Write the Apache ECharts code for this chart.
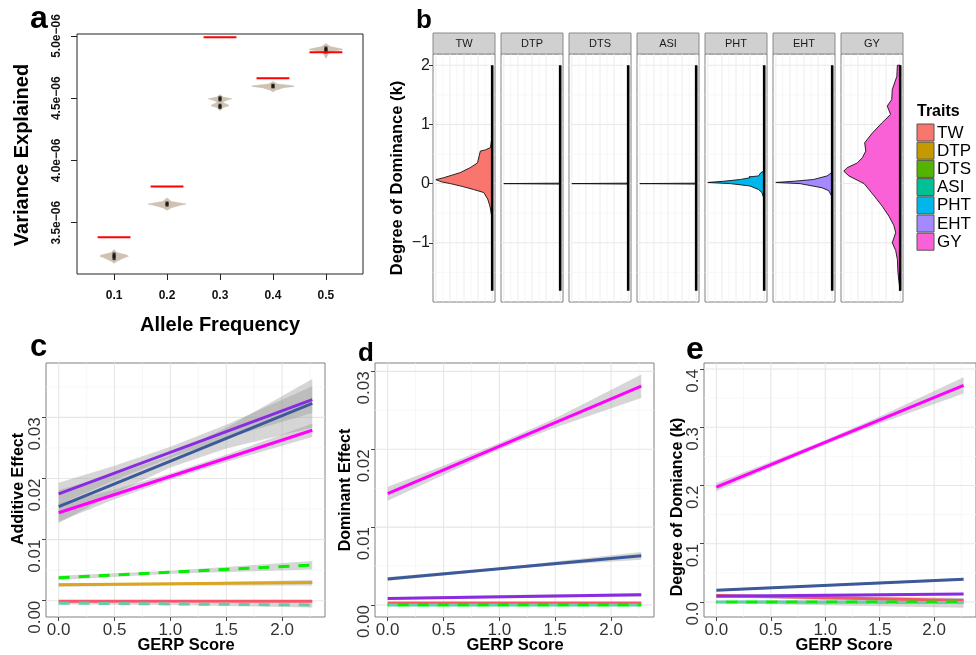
<!DOCTYPE html>
<html>
<head>
<meta charset="utf-8">
<script src="https://cdn.jsdelivr.net/npm/echarts@6/dist/echarts.min.js"></script>
<style>
  html, body { margin: 0; padding: 0; background: #fff; }
  #chart { width: 976px; height: 655px; }
</style>
</head>
<body>
<div id="chart"></div>
<script>
// ---------- Panel a: variance explained per allele-frequency class (units of 1e-6) ----------
const alleleFreqLabels = ['0.1', '0.2', '0.3', '0.4', '0.5'];
const expectedVarE6 = [3.383, 3.79, 4.99, 4.66, 4.87];
// violin outlines: [variance, half width in class units]
const violin01 = [[3.285, 0], [3.26, 0.05], [3.24, 0.24], [3.23, 0.27], [3.22, 0.2], [3.19, 0.05], [3.175, 0]];
const violin02 = [[3.70, 0], [3.67, 0.08], [3.655, 0.3], [3.65, 0.36], [3.64, 0.25], [3.62, 0.08], [3.60, 0]];
const violin03 = [[4.53, 0], [4.51, 0.06], [4.495, 0.22], [4.48, 0.1], [4.465, 0.05], [4.45, 0.14], [4.44, 0.17], [4.425, 0.06], [4.40, 0]];
const violin04 = [[4.635, 0], [4.615, 0.08], [4.60, 0.38], [4.595, 0.40], [4.585, 0.2], [4.565, 0.05], [4.55, 0]];
const violin05 = [[4.94, 0], [4.915, 0.08], [4.895, 0.3], [4.89, 0.32], [4.88, 0.15], [4.86, 0.05], [4.82, 0]];
const replicateVarE6 = [[3.245, 3.23, 3.215], [3.655, 3.645], [4.50, 4.49, 4.44, 4.43], [4.60, 4.595], [4.90, 4.89, 4.875]];
const varianceTicksE6 = [3.5, 4.0, 4.5, 5.0];
const varianceTickLabels = ['3.5e\u221206', '4.0e\u221206', '4.5e\u221206', '5.0e\u221206'];

// ---------- Panel b: distribution of degree of dominance (k) per trait ----------
const traitNames = ['TW', 'DTP', 'DTS', 'ASI', 'PHT', 'EHT', 'GY'];
const traitColors = ['#F8766D', '#C49A00', '#53B400', '#00C094', '#00B6EB', '#A58AFF', '#FB61D7'];
// [k, scaled density]
const densTW = [[0.89, 0], [0.75, 0.01], [0.61, 0.03], [0.57, 0.12], [0.55, 0.21], [0.47, 0.23], [0.35, 0.26], [0.27, 0.39],
  [0.185, 0.57], [0.10, 0.86], [0.067, 1.0], [0.03, 0.9], [0, 0.74], [-0.05, 0.52], [-0.1, 0.33], [-0.15, 0.15],
  [-0.26, 0.08], [-0.38, 0.04], [-0.57, 0.005], [-0.6, 0]];
const densDTP = [[0.008, 0], [0, 1.0], [-0.008, 0]];
const densDTS = [[0.008, 0], [0, 1.0], [-0.008, 0]];
const densASI = [[0.008, 0], [0, 1.0], [-0.008, 0]];
const densPHT = [[0.25, 0], [0.21, 0.01], [0.185, 0.06], [0.13, 0.10], [0.12, 0.2], [0.115, 0.27], [0.10, 0.25], [0.07, 0.42],
  [0.04, 0.72], [0.02, 1.0], [0.0, 0.6], [-0.04, 0.25], [-0.1, 0.1], [-0.15, 0.04], [-0.24, 0.01], [-0.3, 0]];
const densEHT = [[0.22, 0], [0.185, 0.01], [0.13, 0.09], [0.07, 0.33], [0.04, 0.68], [0.02, 1.0], [0.0, 0.57],
  [-0.07, 0.18], [-0.12, 0.06], [-0.21, 0.01], [-0.26, 0]];
const densGY = [[2.0, 0], [2.0, 0.05], [1.9, 0.055], [1.81, 0.06], [1.7, 0.1], [1.59, 0.14], [1.42, 0.15], [1.31, 0.23],
  [1.24, 0.2], [1.17, 0.17], [1.03, 0.32], [0.86, 0.49], [0.69, 0.63], [0.55, 0.61], [0.44, 0.67], [0.35, 0.76],
  [0.27, 0.94], [0.21, 1.0], [0.13, 0.91], [0.0, 0.64], [-0.21, 0.46], [-0.38, 0.32], [-0.55, 0.2], [-0.71, 0.11],
  [-0.83, 0.08], [-1.0, 0.14], [-1.13, 0.08], [-1.28, 0.05], [-1.5, 0.04], [-1.67, 0.02], [-1.81, 0]];
const kRange = [-1.81, 2.0];
const kTicks = [-1, 0, 1, 2];
const kTickLabels = ['\u22121', '0', '1', '2'];
const kMinorTicks = [-1.5, -0.5, 0.5, 1.5];
const densMajor = [0, 0.25, 0.5, 0.75, 1.0];
const densMinor = [0.125, 0.375, 0.625, 0.875];

// ---------- Panels c-e: fitted effects against GERP score ----------
const gerpEnds = [0, 2.27];
const gerpBandX = [0, 0.5, 1.0, 1.5, 2.27];
const gerpBandX3 = [0, 1.0, 2.27];
const gerpTicks = [0, 0.5, 1.0, 1.5, 2.0];
const gerpTickLabels = ['0.0', '0.5', '1.0', '1.5', '2.0'];
const gerpMinor = [0.25, 0.75, 1.25, 1.75, 2.25];

// c: additive effect
const addEHT = [0.01747, 0.0329];
const addEHTLo = [0.0157, 0.0197, 0.0234, 0.0266, 0.0307];
const addEHTHi = [0.0193, 0.0221, 0.0252, 0.0288, 0.0351];
const addPHT = [0.0154, 0.0323];
const addPHTLo = [0.0127, 0.0176, 0.0218, 0.0249, 0.0283];
const addPHTHi = [0.0181, 0.0206, 0.0238, 0.0283, 0.0363];
const addGY = [0.0144, 0.0279];
const addGYLo = [0.0129, 0.0166, 0.0198, 0.0227, 0.0268];
const addGYHi = [0.0159, 0.0182, 0.0208, 0.0239, 0.0290];
const addDTS = [0.00374, 0.00582];
const addDTSLo = [0.0034, 0.0044, 0.0051];
const addDTSHi = [0.0041, 0.0049, 0.0065];
const addDTP = [0.0026, 0.00297];
const addDTPLo = [0.0023, 0.0025, 0.0025];
const addDTPHi = [0.0029, 0.0029, 0.0034];
const addTW = [-0.0001, -0.0001];
const addTWLo = [-0.0003, -0.0002, -0.0003];
const addTWHi = [0.0001, 0.0, 0.0001];
const addASI = [-0.0004, -0.0007];
const addASILo = [-0.0006, -0.0007, -0.0011];
const addASIHi = [-0.0002, -0.0004, -0.0003];
const addTicks = [0, 0.01, 0.02, 0.03];
const addTickLabels = ['0.00', '0.01', '0.02', '0.03'];
const addMinor = [0.005, 0.015, 0.025, 0.035];

// d: dominant effect
const domGY = [0.0143, 0.0281];
const domGYLo = [0.0134, 0.0167, 0.0200, 0.0228, 0.0266];
const domGYHi = [0.0152, 0.0179, 0.0208, 0.0240, 0.0296];
const domPHT = [0.00333, 0.00634];
const domPHTLo = [0.0031, 0.0038, 0.0045, 0.0051, 0.0058];
const domPHTHi = [0.0036, 0.0042, 0.0048, 0.0056, 0.0068];
const domEHT = [0.00085, 0.00132];
const domEHTLo = [0.0007, 0.0009, 0.0011];
const domEHTHi = [0.0010, 0.0013, 0.0015];
const domTW = [0.00026, 0.00026];
const domASI = [0.0, 0.0];
const domDTS = [0.0, 0.0];
const domTicks = [0, 0.01, 0.02, 0.03];
const domTickLabels = ['0.00', '0.01', '0.02', '0.03'];
const domMinor = [0.005, 0.015, 0.025];

// e: degree of dominance
const kGY = [0.1972, 0.3719];
const kGYLo = [0.1902, 0.2307, 0.2702, 0.3066, 0.3579];
const kGYHi = [0.2042, 0.2407, 0.2782, 0.3186, 0.3859];
const kPHT = [0.0201, 0.0391];
const kPHTLo = [0.0185, 0.0370];
const kPHTHi = [0.0217, 0.0412];
const kEHT = [0.0098, 0.0138];
const kEHTLo = [0.0085, 0.0120];
const kEHTHi = [0.0111, 0.0156];
const kTW = [0.011, 0.0025];
const kTWLo = [0.008, -0.002];
const kTWHi = [0.014, 0.007];
const kASI = [0.0, -0.001];
const kASILo = [-0.002, -0.010];
const kASIHi = [0.002, 0.006];
const kDTS = [0.0, 0.0];
const kEffTicks = [0, 0.1, 0.2, 0.3, 0.4];
const kEffTickLabels = ['0.0', '0.1', '0.2', '0.3', '0.4'];
const kEffMinor = [0.05, 0.15, 0.25, 0.35];

// ---------- drawing ----------
const FONT = "'Liberation Sans', Arial, Helvetica, sans-serif";
const C_MAGENTA = '#FF00FF', C_PURPLE = '#8A2BE2', C_BLUE = '#3C5A9A', C_GOLD = '#DAA520',
      C_GREEN = '#00F000', C_RED = '#FA5468', C_TEAL = '#66CDAA';
const RIBBON = 'rgba(153,153,153,0.4)';
const DASH = [11, 9];

const grids = [], xAxes = [], yAxes = [], series = [];

function labelFor(ticks, labels) {
  return v => {
    const i = ticks.findIndex(t => Math.abs(t - v) < 1e-7);
    return i < 0 ? '' : labels[i];
  };
}

function valueAxis(grid, min, max, o) {
  o = o || {};
  const ax = {
    type: 'value', gridIndex: grid, min: min, max: max, inverse: !!o.inverse,
    show: o.show !== false,
    axisLine: { show: false, onZero: false },
    splitLine: { show: false },
    axisTick: { show: false },
    axisLabel: { show: false }
  };
  if (o.ticks) {
    ax.axisTick = { show: true, customValues: o.ticks, length: o.tickLen || 4,
      lineStyle: { color: o.tickColor || '#333', width: 1 } };
    ax.axisLabel = { show: true, customValues: o.ticks, formatter: labelFor(o.ticks, o.labels),
      fontFamily: FONT, fontSize: o.fontSize || 12, fontWeight: o.fontWeight || 'normal',
      color: o.labelColor || '#333', margin: o.margin == null ? 4 : o.margin, rotate: o.rotate || 0 };
    if (o.align) ax.axisLabel.align = o.align;
    if (o.verticalAlign) ax.axisLabel.verticalAlign = o.verticalAlign;
  }
  return ax;
}

function gridLines(idx, dir, values, color, width) {
  return {
    type: 'custom', xAxisIndex: idx, yAxisIndex: idx, silent: true, z: 1, clip: false,
    data: values.map(v => dir === 'x' ? [v, 0] : [0, v]),
    renderItem: (params, api) => {
      const cs = params.coordSys;
      if (dir === 'x') {
        const x = api.coord([api.value(0), 0])[0];
        return { type: 'line', shape: { x1: x, y1: cs.y, x2: x, y2: cs.y + cs.height },
          style: { stroke: color, lineWidth: width } };
      }
      const y = api.coord([0, api.value(1)])[1];
      return { type: 'line', shape: { x1: cs.x, y1: y, x2: cs.x + cs.width, y2: y },
        style: { stroke: color, lineWidth: width } };
    }
  };
}

function polygon(idx, pts, style, z) {
  return {
    type: 'custom', xAxisIndex: idx, yAxisIndex: idx, silent: true, z: z || 2,
    data: [pts[0]],
    renderItem: (params, api) => ({
      type: 'polygon',
      shape: { points: pts.map(p => api.coord(p)) },
      style: style
    })
  };
}

function ribbon(idx, xs, lo, hi) {
  const pts = xs.map((x, i) => [x, lo[i]]).concat(xs.map((x, i) => [x, hi[i]]).reverse());
  return polygon(idx, pts, { fill: RIBBON, stroke: 'none' }, 2);
}

function line(idx, xs, ys, color, width, dash, offset) {
  return {
    type: 'line', xAxisIndex: idx, yAxisIndex: idx, silent: true, z: 3,
    symbol: 'none', showSymbol: false, animation: false,
    data: xs.map((x, i) => [x, ys[i]]),
    lineStyle: { color: color, width: width, type: dash || 'solid', dashOffset: offset || 0, cap: 'butt' }
  };
}

// ----- panel a -----
grids.push({ left: 77, top: 34, width: 286, height: 240, show: true, borderColor: '#222', borderWidth: 1 });
xAxes.push(valueAxis(0, 0.3, 5.7, { ticks: [1, 2, 3, 4, 5], labels: alleleFreqLabels, tickLen: 6,
  tickColor: '#222', fontSize: 12, fontWeight: 'bold', labelColor: '#111', margin: 16 }));
yAxes.push(valueAxis(0, 3.088, 5.016, { ticks: varianceTicksE6, labels: varianceTickLabels, tickLen: 6,
  tickColor: '#222', fontSize: 12, fontWeight: 'bold', labelColor: '#111', margin: 14, rotate: 90 }));
const violins = [violin01, violin02, violin03, violin04, violin05];
series.push({
  type: 'custom', xAxisIndex: 0, yAxisIndex: 0, silent: true, z: 2,
  data: violins.map((v, i) => [i + 1, v[0][0]]),
  renderItem: (params, api) => {
    const c = api.value(0);
    const prof = violins[params.dataIndex];
    const right = prof.map(p => api.coord([c + p[1], p[0]]));
    const left = prof.slice().reverse().map(p => api.coord([c - p[1], p[0]]));
    return { type: 'polygon', shape: { points: right.concat(left) }, style: { fill: '#CFC2B3', stroke: '#C8BBAB', lineWidth: 0.5 } };
  }
});
const dotData = [];
replicateVarE6.forEach((vals, i) => vals.forEach(v => dotData.push([i + 1, v])));
series.push({ type: 'scatter', xAxisIndex: 0, yAxisIndex: 0, silent: true, z: 3, data: dotData,
  symbol: 'rect', symbolSize: [3, 4], itemStyle: { color: '#111' } });
series.push({
  type: 'custom', xAxisIndex: 0, yAxisIndex: 0, silent: true, z: 4,
  data: expectedVarE6.map((v, i) => [i + 1, v]),
  renderItem: (params, api) => {
    const a = api.coord([api.value(0) - 0.31, api.value(1)]);
    const b = api.coord([api.value(0) + 0.31, api.value(1)]);
    return { type: 'line', shape: { x1: a[0], y1: a[1], x2: b[0], y2: b[1] }, style: { stroke: '#FF0000', lineWidth: 2 } };
  }
});

// ----- panel b facets -----
const densities = [densTW, densDTP, densDTS, densASI, densPHT, densEHT, densGY];
const FACET_LEFT = [433, 501, 569, 637, 705, 773, 841];
const graphic = [];
densities.forEach((dens, i) => {
  const idx = 1 + i;
  grids.push({ left: FACET_LEFT[i], top: 54, width: 62, height: 248, show: true, borderColor: '#808080', borderWidth: 1 });
  xAxes.push(valueAxis(idx, -0.05, 1.05, { inverse: true, show: false }));
  if (i === 0) {
    yAxes.push(valueAxis(idx, -2.0, 2.19, { ticks: kTicks, labels: kTickLabels, tickLen: 4, tickColor: '#333',
      fontSize: 16, labelColor: '#1a1a1a', margin: 3 }));
  } else {
    yAxes.push(valueAxis(idx, -2.0, 2.19, { show: false }));
  }
  series.push(gridLines(idx, 'y', kMinorTicks, '#F4F4F4', 0.7));
  series.push(gridLines(idx, 'x', densMinor, '#F4F4F4', 0.7));
  series.push(gridLines(idx, 'y', kTicks, '#E8E8E8', 1));
  series.push(gridLines(idx, 'x', densMajor, '#ECECEC', 1));
  series.push(polygon(idx, dens.map(p => [p[1], p[0]]), { fill: traitColors[i], stroke: '#111', lineWidth: 0.9 }, 2));
  series.push(line(idx, [0, 0], kRange, '#000', 2.6));
  // strip
  graphic.push({ type: 'rect', shape: { x: FACET_LEFT[i], y: 33, width: 62, height: 21 },
    style: { fill: '#D0D0D0', stroke: '#8A8A8A', lineWidth: 1 }, silent: true });
  graphic.push({ type: 'text', x: FACET_LEFT[i] + 31, y: 44,
    style: { text: traitNames[i], fontFamily: FONT, fontSize: 11, fill: '#1a1a1a',
      textAlign: 'center', textVerticalAlign: 'middle', align: 'center', verticalAlign: 'middle' }, silent: true });
});

// ----- panels c, d, e -----
function effectPanel(idx, box, yMin, yMax, yTicks, yLabels, yMinor) {
  grids.push({ left: box[0], top: box[1], width: box[2], height: box[3], show: true, borderColor: '#808080', borderWidth: 1 });
  xAxes.push(valueAxis(idx, -0.1135, 2.384, { ticks: gerpTicks, labels: gerpTickLabels, tickLen: 4, tickColor: '#444',
    fontSize: 17, labelColor: '#333', margin: 5 }));
  yAxes.push(valueAxis(idx, yMin, yMax, { ticks: yTicks, labels: yLabels, tickLen: 4, tickColor: '#444',
    fontSize: 17, labelColor: '#333', margin: 2, rotate: 90, align: 'right', verticalAlign: 'bottom' }));
  series.push(gridLines(idx, 'x', gerpMinor, '#F3F3F3', 0.7));
  series.push(gridLines(idx, 'y', yMinor, '#F3F3F3', 0.7));
  series.push(gridLines(idx, 'x', gerpTicks, '#E6E6E6', 1.1));
  series.push(gridLines(idx, 'y', yTicks, '#E6E6E6', 1.1));
}

// c
effectPanel(8, [46, 363, 279, 254], -0.00267, 0.0389, addTicks, addTickLabels, addMinor);
series.push(ribbon(8, gerpBandX, addPHTLo, addPHTHi));
series.push(ribbon(8, gerpBandX, addEHTLo, addEHTHi));
series.push(ribbon(8, gerpBandX, addGYLo, addGYHi));
series.push(ribbon(8, gerpBandX3, addDTSLo, addDTSHi));
series.push(ribbon(8, gerpBandX3, addDTPLo, addDTPHi));
series.push(ribbon(8, gerpBandX3, addTWLo, addTWHi));
series.push(ribbon(8, gerpBandX3, addASILo, addASIHi));
series.push(line(8, gerpEnds, addTW, C_RED, 3));
series.push(line(8, gerpEnds, addASI, C_TEAL, 3, DASH));
series.push(line(8, gerpEnds, addDTP, C_GOLD, 3));
series.push(line(8, gerpEnds, addDTS, C_GREEN, 3, DASH));
series.push(line(8, gerpEnds, addGY, C_MAGENTA, 3));
series.push(line(8, gerpEnds, addPHT, C_BLUE, 3));
series.push(line(8, gerpEnds, addEHT, C_PURPLE, 3));

// d
effectPanel(9, [375, 363, 279, 254], -0.00154, 0.03108, domTicks, domTickLabels, domMinor);
series.push(ribbon(9, gerpBandX, domGYLo, domGYHi));
series.push(ribbon(9, gerpBandX, domPHTLo, domPHTHi));
series.push(ribbon(9, gerpBandX3, domEHTLo, domEHTHi));
series.push(line(9, gerpEnds, domTW, C_RED, 3));
series.push(line(9, gerpEnds, domASI, C_TEAL, 3, DASH));
series.push(line(9, gerpEnds, domDTS, C_GREEN, 3, DASH, 10));
series.push(line(9, gerpEnds, domEHT, C_PURPLE, 3));
series.push(line(9, gerpEnds, domPHT, C_BLUE, 3));
series.push(line(9, gerpEnds, domGY, C_MAGENTA, 3));

// e
effectPanel(10, [704, 363, 281, 254], -0.0258, 0.4103, kEffTicks, kEffTickLabels, kEffMinor);
series.push(ribbon(10, gerpBandX, kGYLo, kGYHi));
series.push(ribbon(10, gerpEnds, kPHTLo, kPHTHi));
series.push(ribbon(10, gerpEnds, kEHTLo, kEHTHi));
series.push(ribbon(10, gerpEnds, kTWLo, kTWHi));
series.push(ribbon(10, gerpEnds, kASILo, kASIHi));
series.push(line(10, gerpEnds, kTW, C_RED, 3));
series.push(line(10, gerpEnds, kEHT, C_PURPLE, 3));
series.push(line(10, gerpEnds, kASI, C_TEAL, 3, DASH));
series.push(line(10, gerpEnds, kDTS, C_GREEN, 3, DASH, 10));
series.push(line(10, gerpEnds, kPHT, C_BLUE, 3));
series.push(line(10, gerpEnds, kGY, C_MAGENTA, 3));

// ----- text: panel letters, axis titles, legend -----
function txt(text, x, y, size, weight, rot, align, color) {
  const a = align || 'center';
  return { type: 'text', x: x, y: y, rotation: rot ? Math.PI / 2 : 0, silent: true,
    style: { text: text, fontFamily: FONT, fontSize: size, fontWeight: weight || 'normal', fill: color || '#000',
      textAlign: a, textVerticalAlign: 'middle', align: a, verticalAlign: 'middle' } };
}
graphic.push(txt('a', 30, 19, 32, 'bold', false, 'left'));
graphic.push(txt('b', 416, 21, 26, 'bold', false, 'left'));
graphic.push(txt('c', 30, 347, 31, 'bold', false, 'left'));
graphic.push(txt('d', 358, 354, 26, 'bold', false, 'left'));
graphic.push(txt('e', 686, 350, 32, 'bold', false, 'left'));

graphic.push(txt('Variance Explained', 22, 155, 20, 'bold', true));
graphic.push(txt('Allele Frequency', 220, 325, 20, 'bold'));
graphic.push(txt('Degree of Dominance (k)', 397, 178, 16.5, 'bold', true));
graphic.push(txt('Additive Effect', 19, 489, 16, 'bold', true));
graphic.push(txt('GERP Score', 186, 645, 16.5, 'bold'));
graphic.push(txt('Dominant Effect', 346, 490, 16, 'bold', true));
graphic.push(txt('GERP Score', 515, 645, 16.5, 'bold'));
graphic.push(txt('Degree of Domiance (k)', 678, 507, 16, 'bold', true));
graphic.push(txt('GERP Score', 844, 645, 16.5, 'bold'));

graphic.push(txt('Traits', 917, 112, 16, 'bold', false, 'left'));
traitNames.forEach((name, i) => {
  const y = 124 + i * 18.2;
  graphic.push({ type: 'rect', shape: { x: 917, y: y, width: 17, height: 17 }, silent: true,
    style: { fill: traitColors[i], stroke: '#555', lineWidth: 1 } });
  graphic.push(txt(name, 937, y + 9, 17, 'normal', false, 'left'));
});

const chart = echarts.init(document.getElementById('chart'), null, { renderer: 'canvas' });
chart.setOption({
  animation: false,
  backgroundColor: '#fff',
  grid: grids,
  xAxis: xAxes,
  yAxis: yAxes,
  series: series,
  graphic: { elements: graphic }
});
</script>
</body>
</html>
